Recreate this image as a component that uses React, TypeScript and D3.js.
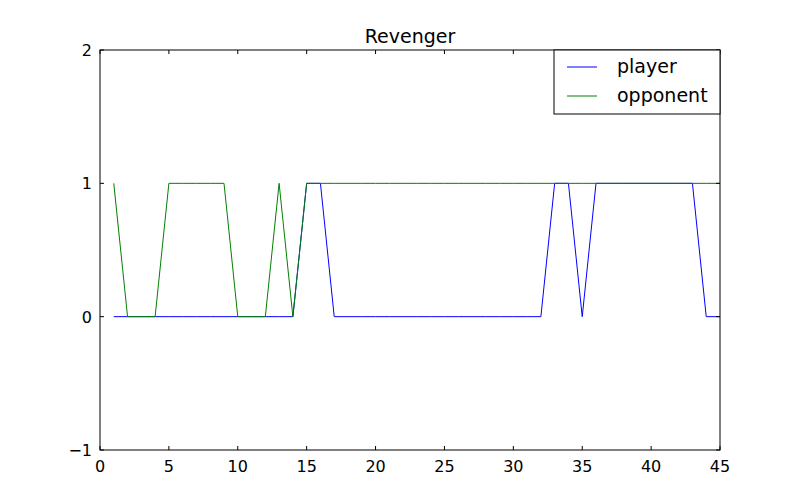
import React from "react";
import * as d3 from "d3";

const xs = Array.from({ length: 45 }, (_, i) => i + 1);
const player = [0,0,0,0,0,0,0,0,0,0,0,0,0,0,1,1,0,0,0,0,0,0,0,0,0,0,0,0,0,0,0,0,1,1,0,1,1,1,1,1,1,1,1,0,0];
const opponent = [1,0,0,0,1,1,1,1,1,0,0,0,1,0,1,1,1,1,1,1,1,1,1,1,1,1,1,1,1,1,1,1,1,1,1,1,1,1,1,1,1,1,1,1,1];
const xTicks = [0,5,10,15,20,25,30,35,40,45];
const yTicks = [-1,0,1,2];

export default function App() {
  const L = 100, R = 720, T = 50, B = 450;
  const x = d3.scaleLinear().domain([0, 45]).range([L, R]);
  const y = d3.scaleLinear().domain([-1, 2]).range([B, T]);
  const line = (vals: number[]) =>
    d3.line<number>().x((_, i) => x(xs[i])).y((v) => y(v))(vals) || "";
  const font = "DejaVu Sans, sans-serif";
  return (
    <svg width={800} height={500} style={{ position: "absolute", left: 0, top: 0, background: "#fff" }} fontFamily={font}>
      <rect x={0} y={0} width={800} height={500} fill="#fff" />
      <path d={line(player)} fill="none" stroke="#0000ff" strokeWidth={1} />
      <path d={line(opponent)} fill="none" stroke="#008000" strokeWidth={1} />
      <rect x={L} y={T} width={R - L} height={B - T} fill="none" stroke="#000" strokeWidth={1} />
      {xTicks.map((t) => (
        <g key={"x" + t}>
          <line x1={x(t)} x2={x(t)} y1={B} y2={B - 4} stroke="#000" />
          <line x1={x(t)} x2={x(t)} y1={T} y2={T + 4} stroke="#000" />
          <text x={x(t)} y={B + 22} fontSize={16} textAnchor="middle">{t}</text>
        </g>
      ))}
      {yTicks.map((t) => (
        <g key={"y" + t}>
          <line x1={L} x2={L + 4} y1={y(t)} y2={y(t)} stroke="#000" />
          <line x1={R} x2={R - 4} y1={y(t)} y2={y(t)} stroke="#000" />
          <text x={L - 8} y={y(t) + 6} fontSize={16} textAnchor="end">{t < 0 ? "\u2212" + Math.abs(t) : t}</text>
        </g>
      ))}
      <text x={410} y={43} fontSize={19} textAnchor="middle">Revenger</text>
      <rect x={554} y={50} width={166} height={64} fill="#fff" stroke="#000" />
      <line x1={567} x2={597} y1={67} y2={67} stroke="#0000ff" />
      <text x={617} y={73} fontSize={19}>player</text>
      <line x1={567} x2={597} y1={96} y2={96} stroke="#008000" />
      <text x={617} y={102} fontSize={19}>opponent</text>
    </svg>
  );
}
